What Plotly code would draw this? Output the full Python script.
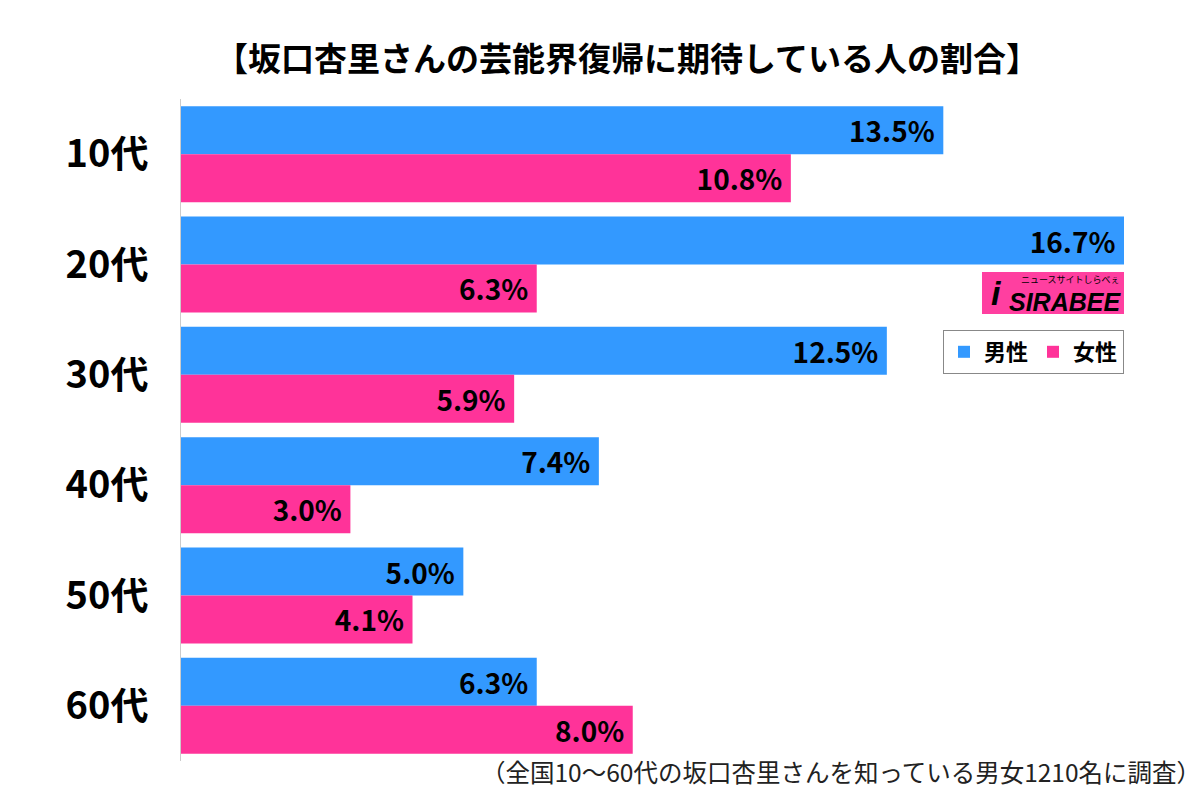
import plotly.graph_objects as go

categories = ["10代", "20代", "30代", "40代", "50代", "60代"]
male = [13.5, 16.7, 12.5, 7.4, 5.0, 6.3]
female = [10.8, 6.3, 5.9, 3.0, 4.1, 8.0]
series_names = ["男性", "女性"]
title_text = "【坂口杏里さんの芸能界復帰に期待している人の割合】"
note_text = "（全国10～60代の坂口杏里さんを知っている男女1210名に調査）"

BLUE = "#3399ff"
PINK = "#ff3399"
FONT = "Noto Sans CJK JP"
XMAX = 16.7

# page offset of the figure (body margin) in screen pixels
OX, OY = 8, 8
W, H = 1200, 801
# desired plot-area edges in screen pixels
SX0, SX1, SY0, SY1 = 181, 1124, 99, 761
L = SX0 - OX
R = W - (SX1 - OX)
T = SY0 - OY
B = H - (SY1 - OY)
plot_w = SX1 - SX0
plot_h = SY1 - SY0
def px(xs): return (xs - SX0) / plot_w
def py(ys): return (SY1 - ys) / plot_h

fig = go.Figure()
for name, vals, col in [(series_names[0], male, BLUE), (series_names[1], female, PINK)]:
    fig.add_trace(go.Bar(
        y=categories, x=vals, name=name, orientation="h",
        marker=dict(color=col, line=dict(width=0)),
        text=[f"{v:.1f}%\u2009" for v in vals],
        textposition="inside", insidetextanchor="end",
        textfont=dict(family=FONT, size=28, color="black", weight="bold"),
        cliponaxis=False,
    ))

fig.update_layout(
    width=W, height=H,
    margin=dict(l=L, r=R, t=T, b=B, autoexpand=False),
    paper_bgcolor="white", plot_bgcolor="white",
    barmode="group", bargap=0.13, bargroupgap=0,
    font=dict(family=FONT, color="black"),
    showlegend=True,
    legend=dict(
        orientation="h", x=1.0, xanchor="right", y=py(352), yanchor="middle",
        bordercolor="#888888", borderwidth=1, bgcolor="white",
        font=dict(family=FONT, size=22, color="black", weight="bold"),
        itemwidth=30, traceorder="normal",
    ),
    xaxis=dict(range=[0, XMAX], showgrid=False, showticklabels=False, zeroline=False,
               showline=False, fixedrange=True, automargin=False),
    yaxis=dict(autorange="reversed", showgrid=False, showline=True, linecolor="#cccccc",
               linewidth=1, ticks="", ticklabelstandoff=24, automargin=False,
               tickfont=dict(family=FONT, size=38, color="black", weight="bold")),
)

anns = [
    dict(text=title_text, x=px(627), y=py(57), xref="paper", yref="paper", showarrow=False,
         xanchor="center", yanchor="middle",
         font=dict(family=FONT, size=33, color="black", weight="bold")),
    dict(text=note_text, x=px(1203), y=py(771), xref="paper", yref="paper", showarrow=False,
         xanchor="right", yanchor="middle",
         font=dict(family=FONT, size=24.5, color="#222222")),
    dict(text="<i><b>SIRABEE</b></i>", x=px(1123), y=py(302), xref="paper", yref="paper",
         xanchor="right", yanchor="middle", showarrow=False,
         font=dict(family="Liberation Sans", size=25, color="black")),
    dict(text="<b><i>i</i></b>", x=px(996), y=py(293), xref="paper", yref="paper",
         xanchor="center", yanchor="middle", showarrow=False,
         font=dict(family="Liberation Sans", size=34, color="black")),
    dict(text="ニュースサイトしらべぇ", x=px(1122), y=py(279), xref="paper", yref="paper",
         xanchor="right", yanchor="middle", showarrow=False,
         font=dict(family=FONT, size=9, color="black")),
]

# SIRABEE logo background
fig.add_shape(type="rect", xref="paper", yref="paper",
              x0=px(982), x1=px(1124), y0=py(314), y1=py(272),
              fillcolor="#ff3fa0", line=dict(width=0), layer="above")
fig.update_layout(annotations=anns)

fig.write_html("out.html")
